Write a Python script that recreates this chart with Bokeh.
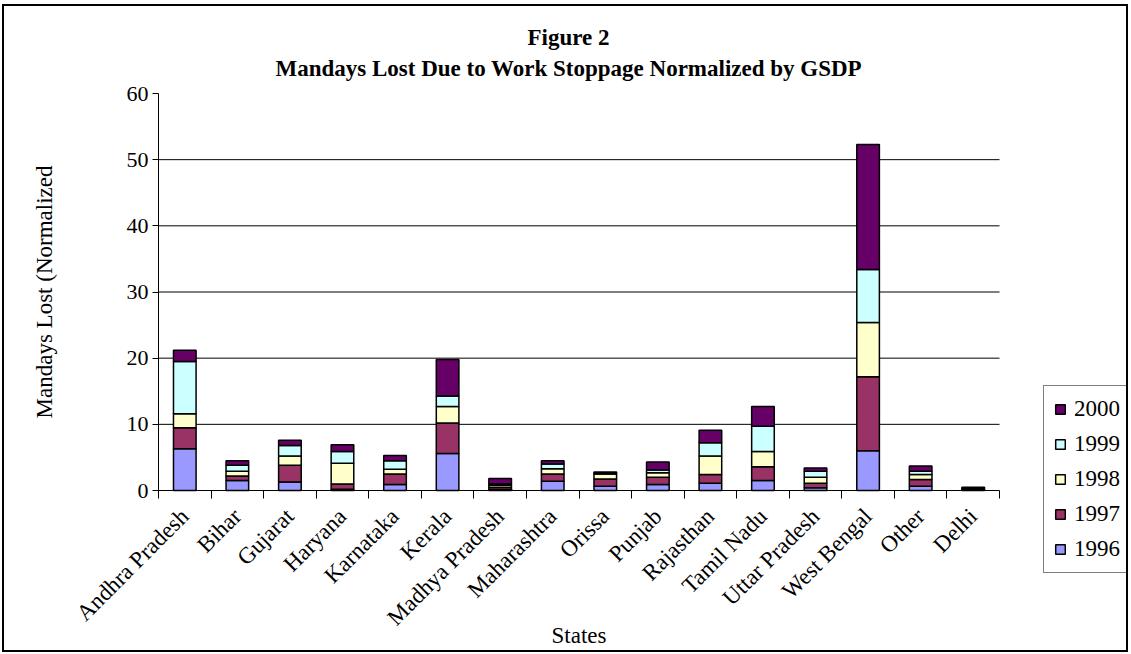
import math
from bokeh.plotting import figure
from bokeh.models import (Range1d, FixedTicker, Legend, LegendItem, Title,
                          ColumnDataSource)
from bokeh.embed import file_html
from bokeh.resources import INLINE

states = ["Andhra Pradesh", "Bihar", "Gujarat", "Haryana", "Karnataka", "Kerala",
          "Madhya Pradesh", "Maharashtra", "Orissa", "Punjab", "Rajasthan",
          "Tamil Nadu", "Uttar Pradesh", "West Bengal", "Other", "Delhi"]
years = ["1996", "1997", "1998", "1999", "2000"]
v1996 = [6.3, 1.5, 1.3, 0.2, 0.9, 5.6, 0.2, 1.4, 0.65, 0.9, 1.1, 1.5, 0.4, 6.0, 0.65, 0.1]
v1997 = [3.2, 0.7, 2.5, 0.8, 1.6, 4.6, 0.3, 1.1, 1.1, 1.1, 1.3, 2.1, 0.7, 11.2, 1.0, 0.1]
v1998 = [2.1, 0.7, 1.4, 3.1, 0.7, 2.5, 0.3, 0.8, 0.75, 0.7, 2.8, 2.3, 0.9, 8.2, 0.75, 0.1]
v1999 = [7.9, 0.9, 1.6, 1.8, 1.3, 1.6, 0.2, 0.7, 0.15, 0.4, 2.0, 3.8, 0.9, 8.0, 0.5, 0.1]
v2000 = [1.7, 0.7, 0.8, 1.0, 0.8, 5.5, 0.8, 0.5, 0.15, 1.2, 1.9, 3.0, 0.5, 18.9, 0.8, 0.1]
colors = ["#9999FF", "#993366", "#FFFFCC", "#CCFFFF", "#660066"]
y_ticks = [0, 10, 20, 30, 40, 50, 60]

FONT = "Liberation Serif"
N = len(states)
Y_MAX = 60

xc = [i + 0.5 for i in range(N)]
src = ColumnDataSource(dict(x=xc, y1996=v1996, y1997=v1997, y1998=v1998,
                            y1999=v1999, y2000=v2000))

# Layout (canvas px).  The frame covers almost the whole canvas so that the
# axes (pinned at x=0 / y=0), their labels and the legend are not clipped.
W, H = 1126, 648
MT, MR = 78, 4
AX_LEFT = 154     # where x=0 falls
AX_TOP = 87       # where y=60 falls
AX_BOTTOM = 484   # where y=0 falls
AX_RIGHT = 995    # where x=N falls
ppx = (AX_RIGHT - AX_LEFT) / N
ppy = (AX_BOTTOM - AX_TOP) / Y_MAX
x_min = -AX_LEFT / ppx
x_max = (W - MR - AX_LEFT) / ppx
y_min = -(H - AX_BOTTOM) / ppy
y_max = Y_MAX + (AX_TOP - MT) / ppy

p = figure(width=W, height=H, output_backend="svg", toolbar_location=None,
           x_range=Range1d(x_min, x_max), y_range=Range1d(y_min, y_max),
           min_border_left=0, min_border_right=MR, min_border_top=MT,
           min_border_bottom=0)
p.styles = {"border": "2px solid black", "margin-left": "2px", "margin-top": "4px"}
p.outline_line_color = None
p.background_fill_color = "white"
p.border_fill_color = "white"

# horizontal gridlines limited to the category span
grid_y = y_ticks[1:-1]
p.segment(x0=[0] * len(grid_y), x1=[N] * len(grid_y), y0=grid_y, y1=grid_y,
          line_color="black", line_width=1)
p.xgrid.visible = False
p.ygrid.visible = False

rs = p.vbar_stack(["y" + y for y in years], x="x", width=0.43, source=src,
                  fill_color=colors, line_color="black", line_width=1.5)

# titles
t2 = Title(text="Mandays Lost Due to Work Stoppage Normalized by GSDP", align="left",
           text_font=FONT, text_font_size="23px", text_font_style="bold",
           text_color="black", offset=271, standoff=8)
t1 = Title(text="Figure 2", align="left", text_font=FONT, text_font_size="23px",
           text_color="black", text_font_style="bold", offset=523, standoff=0)
p.add_layout(t2, "above")
p.add_layout(t1, "above")

# y axis pinned at x=0
p.yaxis.fixed_location = 0
p.yaxis.bounds = (0, Y_MAX)
p.yaxis.ticker = FixedTicker(ticks=y_ticks)
p.yaxis.axis_label = "Mandays Lost (Normalized"
p.yaxis.axis_label_text_font = FONT
p.yaxis.axis_label_text_font_size = "23px"
p.yaxis.axis_label_text_font_style = "normal"
p.yaxis.axis_label_text_color = "black"
p.yaxis.axis_label_standoff = 67
p.yaxis.major_label_text_font = FONT
p.yaxis.major_label_text_font_size = "22px"
p.yaxis.major_label_text_color = "black"
p.yaxis.major_label_standoff = 4
p.yaxis.major_tick_out = 6
p.yaxis.major_tick_in = 0
p.yaxis.minor_tick_out = 0
p.yaxis.minor_tick_in = 0
p.yaxis.axis_line_color = "black"
p.yaxis.major_tick_line_color = "black"

# x axis pinned at y=0: labels at centers, tick marks between categories
p.xaxis.fixed_location = 0
p.xaxis.bounds = (0, N)
p.xaxis.ticker = FixedTicker(ticks=xc, minor_ticks=list(range(N + 1)))
p.xaxis.major_label_overrides = {c: s for c, s in zip(xc, states)}
p.xaxis.major_label_orientation = math.pi / 4
p.xaxis.major_label_text_font = FONT
p.xaxis.major_label_text_font_size = "23px"
p.xaxis.major_label_text_color = "black"
p.xaxis.major_label_standoff = 14
p.xaxis.major_tick_out = 0
p.xaxis.major_tick_in = 0
p.xaxis.minor_tick_out = 8
p.xaxis.minor_tick_in = 0
p.xaxis.minor_tick_line_color = "black"
p.xaxis.axis_line_color = "black"
p.xaxis.axis_label = "States"
p.xaxis.axis_label_text_font = FONT
p.xaxis.axis_label_text_font_size = "23px"
p.xaxis.axis_label_text_font_style = "normal"
p.xaxis.axis_label_text_color = "black"
p.xaxis.axis_label_standoff = -19

items = [LegendItem(label=y, renderers=[r]) for y, r in zip(years, rs)][::-1]
legend = Legend(items=items, location=(1039, 81), label_text_font=FONT,
                label_text_font_size="23px", label_text_color="black",
                glyph_width=12, glyph_height=12, label_width=70,
                label_height=24, label_standoff=8, spacing=9, padding=10,
                margin=0, border_line_color="black", border_line_width=1,
                background_fill_color="white", background_fill_alpha=1)
p.add_layout(legend)

open("out.html", "w").write(file_html(p, INLINE))
